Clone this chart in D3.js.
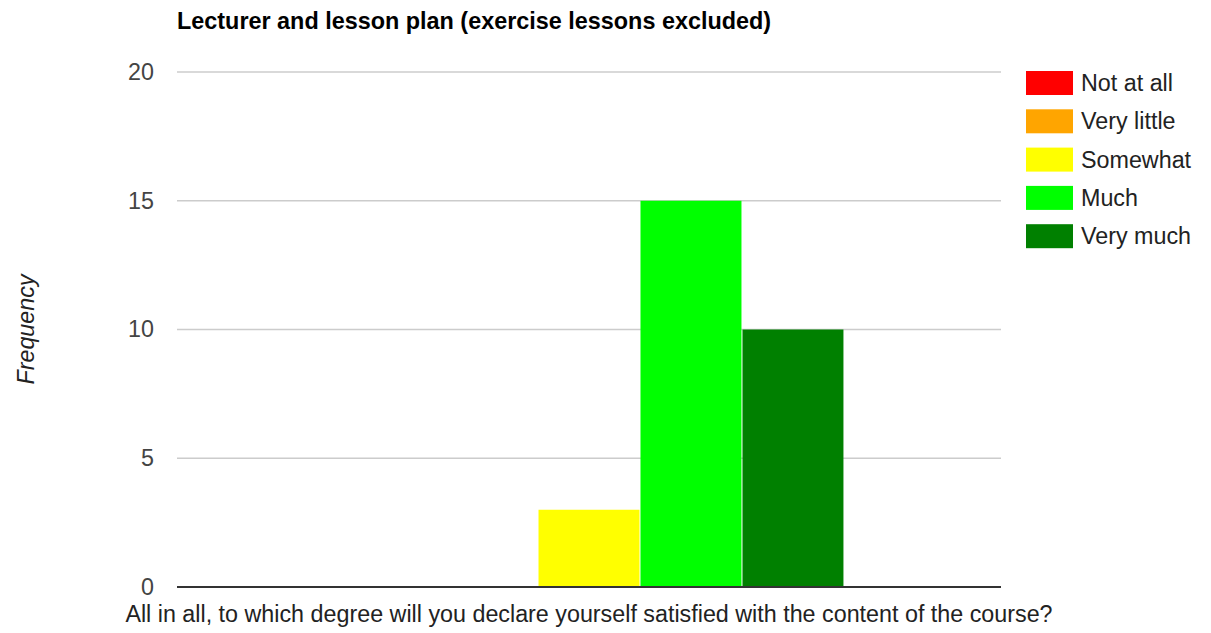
<!DOCTYPE html>
<html><head><meta charset="utf-8">
<script src="https://cdn.jsdelivr.net/npm/d3@7"></script>
<style>body{margin:0;background:#fff;}svg{display:block;font-family:"Liberation Sans",Arial,sans-serif;}</style>
</head><body><svg id="c" width="1211" height="633"></svg>
<script>
const categories = ["All in all, to which degree will you declare yourself satisfied with the content of the course?"];
const seriesNames = ["Not at all","Very little","Somewhat","Much","Very much"];
const seriesValues = [0,0,3,15,10];
const seriesColors = ["#ff0000","#ffa500","#ffff00","#00ff00","#008000"];
const yTicks = [0,5,10,15,20];

const svg = d3.select("#c");
const L=177,R=1001,T=72,B=587;
const y = d3.scaleLinear().domain([0,20]).range([B,T]);
const x0 = d3.scaleBand().domain(categories).range([L,R]).paddingInner(0).paddingOuter(0.308);
const x1 = d3.scaleBand().domain(seriesNames).range([0,x0.bandwidth()]);

svg.append("text").attr("x",177).attr("y",29).attr("font-size",23.4).attr("font-weight","bold").attr("fill","#000")
  .text("Lecturer and lesson plan (exercise lessons excluded)");

// grid
svg.append("g").selectAll("line").data(yTicks.filter(d=>d>0)).join("line")
  .attr("x1",L).attr("x2",R).attr("y1",d=>y(d)).attr("y2",d=>y(d)).attr("stroke","#cccccc").attr("stroke-width",1.5);

const yAxis = d3.axisLeft(y).tickValues(yTicks).tickSize(0).tickPadding(23);
const ga = svg.append("g").attr("transform",`translate(${L},0)`).call(yAxis);
ga.select(".domain").remove();
ga.selectAll("text").attr("font-size",23.3).attr("fill","#444").attr("font-family","Liberation Sans, Arial, sans-serif");

// bars
const g = svg.append("g").selectAll("g").data(categories).join("g").attr("transform",d=>`translate(${x0(d)},0)`);
g.selectAll("rect").data(seriesNames.map((n,i)=>({n,v:seriesValues[i],c:seriesColors[i]}))).join("rect")
  .attr("x",d=>x1(d.n)+0.5).attr("width",x1.bandwidth()-1)
  .attr("y",d=>y(d.v)).attr("height",d=>y(0)-y(d.v)).attr("fill",d=>d.c);

// baseline
svg.append("line").attr("x1",L).attr("x2",R).attr("y1",y(0)).attr("y2",y(0)).attr("stroke","#333").attr("stroke-width",2);

// x title
svg.append("text").attr("x",(L+R)/2).attr("y",622).attr("text-anchor","middle").attr("font-size",23.3).attr("fill","#222")
  .text(categories[0]);
// y title
svg.append("text").attr("transform",`translate(34,${(T+B)/2}) rotate(-90)`).attr("text-anchor","middle")
  .attr("font-size",23.3).attr("font-style","italic").attr("fill","#222").text("Frequency");

// legend
const lg = svg.append("g").selectAll("g").data(seriesNames).join("g").attr("transform",(d,i)=>`translate(1026,${71+i*38.3})`);
lg.append("rect").attr("width",47).attr("height",24).attr("fill",(d,i)=>seriesColors[i]);
lg.append("text").attr("x",55).attr("y",20).attr("font-size",23.3).attr("fill","#222").text(d=>d);
</script></body></html>
